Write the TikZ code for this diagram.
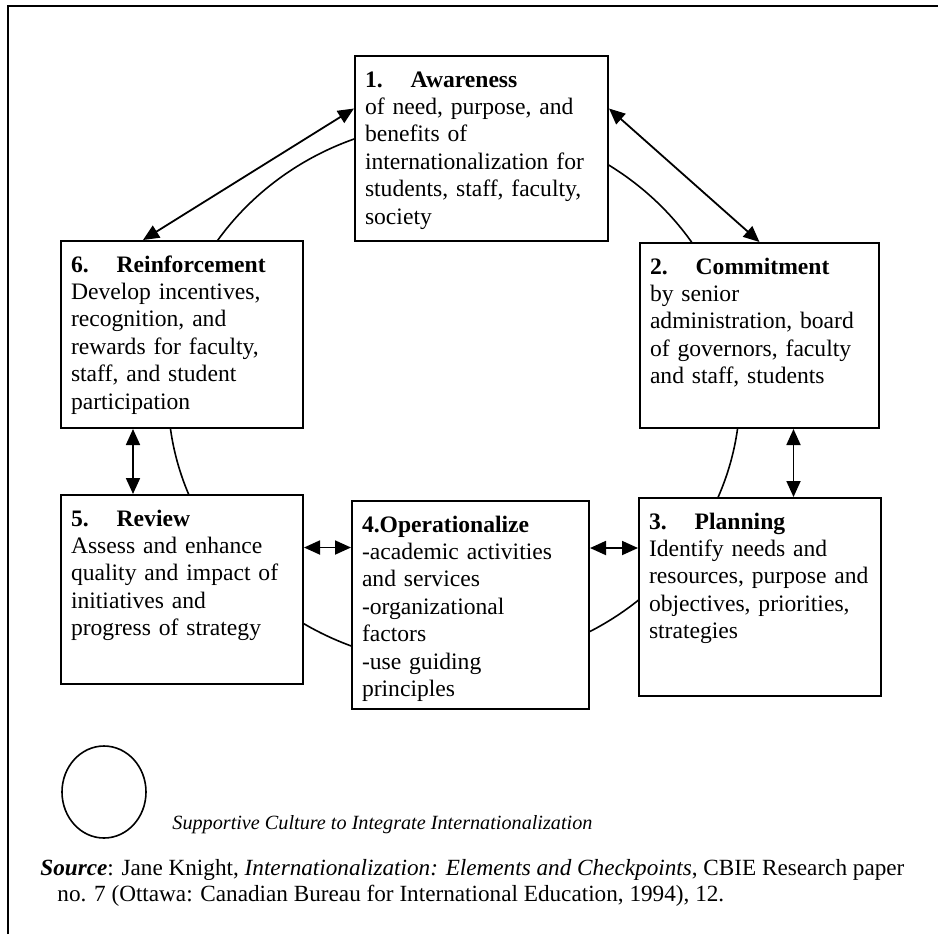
\documentclass[tikz,border=0pt]{standalone}
\usepackage{fontspec}
\setmainfont{Liberation Serif}
\usetikzlibrary{positioning,arrows.meta,shapes.geometric}

\begin{document}
\begin{tikzpicture}[x=0.5pt, y=-0.5pt,
  stage/.style 2 args={draw, line width=1pt, fill=white, anchor=north west, align=left,
    inner xsep=5pt, inner ysep=3pt, text width=#1, text height=12.5pt, text depth=#2,
    font=\fontsize{11.8}{13.7}\selectfont},
  dblarrow/.style={{Triangle[length=8pt,width=7pt]}-{Triangle[length=8pt,width=7pt]}, line width=0.9pt},
]
  \useasboundingbox (0,0) rectangle (938,934);
  \draw[line width=1.3pt] (8,934) -- (8,6) -- (938,6);

  \draw[line width=0.8pt] (454,393) ellipse [x radius=143pt, y radius=135.5pt];

  \node[stage={116.5pt}{74pt}] (awareness) at (354,55)
    {\textbf{1.\hspace{14pt}Awareness}\\of need, purpose, and\\benefits of\\internationalization for\\students, staff, faculty,\\society};
  \node[stage={109.5pt}{74pt}] (commit) at (639,242)
    {\textbf{2.\hspace{14pt}Commitment}\\by senior\\administration, board\\of governors, faculty\\and staff, students};
  \node[stage={111pt}{80.5pt}] (planning) at (638,497)
    {\textbf{3.\hspace{14pt}Planning}\\Identify needs and\\\mbox{resources, purpose and}\\objectives, priorities,\\strategies};
  \node[stage={108.5pt}{85.5pt}] (opera) at (351,500)
    {\textbf{4.Operationalize}\\-academic activities\\and services\\-organizational\\factors\\-use guiding\\principles};
  \node[stage={111pt}{76pt}] (review) at (60,494)
    {\textbf{5.\hspace{14pt}Review}\\Assess and enhance\\quality and impact of\\initiatives and\\progress of strategy};
  \node[stage={111pt}{75pt}] (reinforce) at (60,240)
    {\textbf{6.\hspace{14pt}Reinforcement}\\Develop incentives,\\recognition, and\\rewards for faculty,\\staff, and student\\participation};

  \draw[dblarrow] ([yshift=20pt]awareness.west) -- ([xshift=-19.5pt]reinforce.north);
  \draw[dblarrow] ([yshift=20pt]awareness.east) -- (commit.north);
  \draw[dblarrow] ([xshift=17pt]commit.south) -- ([xshift=17pt]commit.south |- planning.north);
  \draw[dblarrow] ([yshift=28.5pt]opera.east) -- ([yshift=28.5pt]opera.east -| planning.west);
  \draw[dblarrow] ([yshift=21pt]review.east) -- ([yshift=21pt]review.east -| opera.west);
  \draw[dblarrow] ([xshift=-24.5pt]reinforce.south) -- ([xshift=-24.5pt]reinforce.south |- review.north);

  \node[draw, ellipse, line width=0.8pt, minimum width=42pt, minimum height=46pt, inner sep=0pt] (culture) at (104,792) {};
  \node[anchor=base west, inner sep=0pt, font=\fontsize{10.1}{12}\selectfont\itshape] (culturetxt) at (172,829)
    {Supportive Culture to Integrate Internationalization};
  \node[anchor=base west, align=left, inner sep=0pt, font=\fontsize{11.6}{12.8}\selectfont] (source) at (40,901)
    {\textbf{\textit{Source}}: Jane Knight, \textit{Internationalization: Elements and Checkpoints}, CBIE Research paper\\
     \hspace*{8.5pt}no. 7 (Ottawa: Canadian Bureau for International Education, 1994), 12.};
\end{tikzpicture}
\end{document}
